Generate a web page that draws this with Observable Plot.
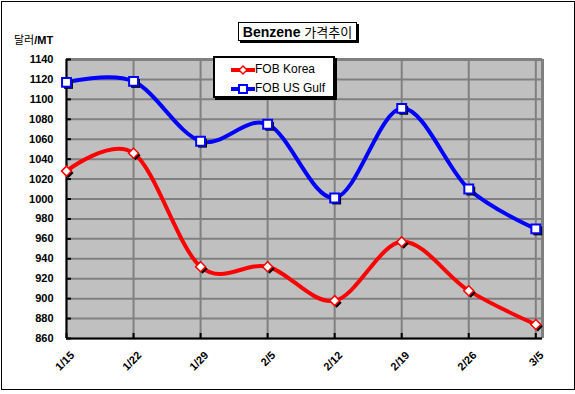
<!DOCTYPE html>
<html>
<head>
<meta charset="utf-8">
<script src="https://cdn.jsdelivr.net/npm/d3@7"></script>
<script src="https://cdn.jsdelivr.net/npm/@observablehq/plot@0.6"></script>
<style>
  body { margin: 0; background: #fff; font-family: "Liberation Sans", Arial, sans-serif; }
  #wrap { position: relative; width: 575px; height: 394px; overflow: hidden; }
  #frame { position: absolute; left: 1px; top: 1px; width: 572px; height: 387px; border: 1px solid #000; pointer-events: none; }
  #title { position: absolute; left: 238px; top: 22px; width: 117px; height: 17px; border: 1px solid #000; background: #fff;
           box-shadow: 2px 2px 0 #000; font-size: 14px; font-weight: bold; line-height: 17px; text-align: center; white-space: nowrap; }
  #title .ko { font-family: "Noto Sans CJK KR", sans-serif; font-weight: normal; font-size: 13px; }
  #ytitle { position: absolute; left: 14px; top: 31px; font-size: 11px; font-weight: bold; white-space: nowrap; }
  #ytitle .ko { font-family: "Noto Sans CJK KR", sans-serif; font-weight: normal; }
  #legend { position: absolute; left: 213px; top: 56px; width: 118px; height: 38px; border: 2px solid #000; background: #fff;
            box-shadow: 2px 2px 0 #000; font-size: 12px; }
  .row { position: absolute; left: 16px; height: 14px; line-height: 14px; white-space: nowrap; }
  .row svg { vertical-align: middle; margin-right: 0px; }
  svg.plot { position: absolute; left: 0; top: 0; }
</style>
</head>
<body>
<div id="wrap"></div>
<script>
const dates = ["1/15", "1/22", "1/29", "2/5", "2/12", "2/19", "2/26", "3/5"];
const korea = [1028, 1046, 932, 932, 898, 957, 908, 874];
const usGulf = [1117, 1118, 1058, 1075, 1001, 1091, 1010, 970];
const seriesNames = ["FOB Korea", "FOB US Gulf"];
const yTicks = d3.range(860, 1141, 20);
const yDomain = [860, 1140];
const xDomain = [0, 7.1];

const idx = d3.range(dates.length);
const rows = [
  ...idx.map(i => ({i, v: korea[i], s: seriesNames[0]})),
  ...idx.map(i => ({i, v: usGulf[i], s: seriesNames[1]}))
];
const kRows = rows.filter(d => d.s === seriesNames[0]);
const uRows = rows.filter(d => d.s === seriesNames[1]);

const W = 575, H = 394, mL = 66, mT = 59, mR = 33, mB = 56;
const pw = W - mL - mR, ph = H - mT - mB;

const chart = Plot.plot({
  width: W, height: H,
  marginLeft: mL, marginTop: mT, marginRight: mR, marginBottom: mB,
  style: { fontFamily: "Liberation Sans, Arial, sans-serif", background: "transparent", overflow: "visible" },
  x: { domain: xDomain },
  y: { domain: yDomain },
  marks: [
    Plot.frame({ fill: "#C0C0C0", stroke: "none" }),
    Plot.gridY(yTicks, { stroke: "#808080", strokeOpacity: 1, strokeWidth: 2 }),
    Plot.gridX(idx, { stroke: "#808080", strokeOpacity: 1, strokeWidth: 2 }),
    Plot.ruleY([yDomain[1]], { stroke: "#808080", strokeWidth: 3 }),
    Plot.ruleX([xDomain[1]], { stroke: "#808080", strokeWidth: 3 }),
    Plot.ruleX(idx, { stroke: "#000", strokeWidth: 2, insetTop: ph - 5 }),
    Plot.ruleY(yTicks, { stroke: "#000", strokeWidth: 2, insetRight: pw - 5 }),
    Plot.ruleY([yDomain[0]], { stroke: "#000", strokeWidth: 2 }),
    Plot.ruleX([xDomain[0]], { stroke: "#000", strokeWidth: 2 }),
    Plot.axisY({ ticks: yTicks, tickFormat: d => String(d), tickSize: 0, tickPadding: 13, fontSize: 11, fontWeight: "bold", fill: "#000", label: null }),
    Plot.axisX({ ticks: idx, tickFormat: i => dates[i], tickRotate: -45, tickSize: 0, tickPadding: 15, dx: 6, fontSize: 11, fontWeight: "bold", fill: "#000", label: null }),
    Plot.line(kRows, { x: "i", y: "v", stroke: "#FF0000", strokeWidth: 4, curve: "cardinal" }),
    Plot.line(uRows, { x: "i", y: "v", stroke: "#0000FF", strokeWidth: 4, curve: "cardinal" }),
    Plot.dot(kRows, { x: "i", y: "v", symbol: "diamond2", r: 4.5, fill: "#000", stroke: "none", dx: 2, dy: 2 }),
    Plot.dot(uRows, { x: "i", y: "v", symbol: "square", r: 5, fill: "#000", stroke: "none", dx: 2, dy: 2 }),
    Plot.dot(kRows, { x: "i", y: "v", symbol: "diamond2", r: 4.5, fill: "#fff", stroke: "#FF0000", strokeWidth: 1.5 }),
    Plot.dot(uRows, { x: "i", y: "v", symbol: "square", r: 5, fill: "#fff", stroke: "#0000FF", strokeWidth: 2 })
  ]
});

const wrap = document.getElementById("wrap");
wrap.appendChild(chart);

const title = document.createElement("div");
title.id = "title";
title.innerHTML = 'Benzene <span class="ko">가격추이</span>';
wrap.appendChild(title);

const ytitle = document.createElement("div");
ytitle.id = "ytitle";
ytitle.innerHTML = '<span class="ko">달러</span>/MT';
wrap.appendChild(ytitle);

const legend = document.createElement("div");
legend.id = "legend";
const colors = ["#FF0000", "#0000FF"];
seriesNames.forEach((name, k) => {
  const row = document.createElement("div");
  row.className = "row";
  row.style.top = (k === 0 ? 4 : 23) + "px";
  const marker = k === 0
    ? `<path d="M12,3 L16,7 L12,11 L8,7 Z" fill="#fff" stroke="${colors[k]}" stroke-width="1.5"/>`
    : `<rect x="8" y="3" width="8" height="8" fill="#fff" stroke="${colors[k]}" stroke-width="2"/>`;
  row.innerHTML = `<svg width="24" height="14"><line x1="0" x2="24" y1="7" y2="7" stroke="${colors[k]}" stroke-width="4"/>${marker}</svg>${name}`;
  legend.appendChild(row);
});
wrap.appendChild(legend);

const frame = document.createElement("div");
frame.id = "frame";
wrap.appendChild(frame);
</script>
</body>
</html>
